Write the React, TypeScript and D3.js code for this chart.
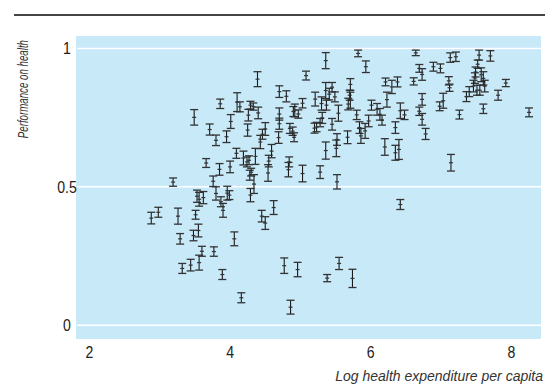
import React from "react";
import * as d3 from "d3";

// log health expenditure per capita (x), performance on health (y), half-width of interval
const expenditure = [
  2.88, 2.98, 3.19, 3.26, 3.29, 3.48, 3.55, 3.32, 3.44, 3.56,
  3.60, 3.51, 3.53, 3.56, 3.62, 3.49, 3.71, 3.66, 3.76, 3.80,
  3.80, 3.85, 3.86, 3.87, 3.90, 3.89, 3.77, 3.95, 3.96, 3.99,
  4.00, 4.01, 4.06, 4.09, 4.10, 4.14, 4.16, 4.19, 4.24, 4.26,
  4.25, 4.27, 4.28, 4.29, 4.30, 4.29, 4.33, 4.34, 4.36, 4.39,
  4.40, 4.43, 4.45, 4.50, 4.46, 4.50, 4.54, 4.55, 4.59, 4.62,
  4.70, 4.80, 4.70, 4.70, 4.69, 4.77, 4.83, 4.84, 4.85, 4.89,
  4.91, 4.86, 4.90, 4.92, 4.97, 4.96, 5.03, 5.03, 5.08, 5.20,
  5.23, 5.21, 5.28, 5.31, 5.30, 5.28, 5.36, 5.36, 5.36, 5.38,
  5.41, 5.37, 5.45, 5.49, 5.45, 5.52, 5.51, 5.52, 5.54, 5.55,
  5.67, 5.70, 5.71, 5.71, 5.68, 5.74, 5.80, 5.82, 5.84, 5.86,
  5.93, 5.92, 5.97, 6.01, 6.09, 6.13, 6.16, 6.21, 6.23, 6.20,
  6.30, 6.35, 6.38, 6.35, 6.40, 6.42, 6.42, 6.48, 6.61, 6.64,
  6.69, 6.73, 6.73, 6.69, 6.73, 6.78, 6.89, 6.99, 6.98, 7.03,
  7.11, 7.12, 7.13, 7.21, 7.14, 7.26, 7.36, 7.40, 7.49, 7.48,
  7.46, 7.51, 7.52, 7.54, 7.57, 7.60, 7.62, 7.60, 7.70, 7.81,
  7.92, 8.25, 7.55,
];

const performance = [
  0.387, 0.408, 0.517, 0.394, 0.312, 0.324, 0.342, 0.205, 0.217, 0.226,
  0.267, 0.399, 0.466, 0.455, 0.461, 0.751, 0.707, 0.586, 0.520, 0.668,
  0.476, 0.563, 0.800, 0.446, 0.415, 0.183, 0.266, 0.681, 0.477, 0.470,
  0.572, 0.736, 0.312, 0.621, 0.806, 0.789, 0.099, 0.604, 0.590, 0.759,
  0.705, 0.596, 0.542, 0.470, 0.553, 0.795, 0.790, 0.510, 0.610, 0.889,
  0.767, 0.662, 0.394, 0.369, 0.690, 0.709, 0.550, 0.593, 0.629, 0.425,
  0.844, 0.827, 0.763, 0.728, 0.678, 0.215, 0.562, 0.590, 0.711, 0.701,
  0.679, 0.065, 0.772, 0.776, 0.763, 0.201, 0.802, 0.548, 0.902, 0.712,
  0.716, 0.817, 0.732, 0.749, 0.801, 0.553, 0.956, 0.848, 0.631, 0.170,
  0.835, 0.795, 0.860, 0.825, 0.726, 0.671, 0.639, 0.518, 0.766, 0.223,
  0.679, 0.831, 0.870, 0.813, 0.799, 0.169, 0.760, 0.982, 0.714, 0.684,
  0.934, 0.702, 0.738, 0.795, 0.780, 0.762, 0.741, 0.879, 0.815, 0.644,
  0.861, 0.714, 0.879, 0.623, 0.635, 0.775, 0.436, 0.760, 0.881, 0.984,
  0.928, 0.906, 0.816, 0.773, 0.744, 0.691, 0.934, 0.928, 0.791, 0.811,
  0.883, 0.858, 0.967, 0.970, 0.587, 0.761, 0.826, 0.844, 0.915, 0.893,
  0.864, 0.849, 0.943, 0.976, 0.905, 0.892, 0.864, 0.782, 0.973, 0.831,
  0.875, 0.769, 0.849,
];

const interval = [
  0.021, 0.018, 0.015, 0.029, 0.019, 0.019, 0.023, 0.018, 0.021, 0.027,
  0.018, 0.016, 0.022, 0.025, 0.022, 0.028, 0.020, 0.016, 0.019, 0.019,
  0.024, 0.021, 0.017, 0.018, 0.025, 0.018, 0.017, 0.021, 0.025, 0.016,
  0.021, 0.025, 0.025, 0.018, 0.034, 0.018, 0.018, 0.025, 0.018, 0.021,
  0.022, 0.016, 0.018, 0.024, 0.014, 0.014, 0.013, 0.034, 0.029, 0.027,
  0.021, 0.024, 0.021, 0.023, 0.018, 0.023, 0.030, 0.021, 0.024, 0.025,
  0.021, 0.020, 0.022, 0.020, 0.021, 0.028, 0.026, 0.018, 0.018, 0.015,
  0.016, 0.025, 0.018, 0.023, 0.015, 0.026, 0.017, 0.030, 0.016, 0.018,
  0.017, 0.025, 0.015, 0.020, 0.024, 0.023, 0.029, 0.029, 0.031, 0.013,
  0.021, 0.018, 0.017, 0.018, 0.021, 0.021, 0.030, 0.026, 0.029, 0.022,
  0.023, 0.018, 0.021, 0.029, 0.021, 0.033, 0.017, 0.012, 0.021, 0.027,
  0.021, 0.027, 0.021, 0.018, 0.021, 0.021, 0.018, 0.014, 0.027, 0.030,
  0.024, 0.021, 0.018, 0.027, 0.036, 0.028, 0.018, 0.017, 0.013, 0.010,
  0.014, 0.021, 0.021, 0.015, 0.021, 0.020, 0.016, 0.016, 0.016, 0.027,
  0.015, 0.013, 0.017, 0.017, 0.030, 0.016, 0.018, 0.018, 0.018, 0.019,
  0.021, 0.018, 0.015, 0.018, 0.025, 0.024, 0.021, 0.017, 0.019, 0.018,
  0.013, 0.016, 0.018,
];

const xTicks = [2, 4, 6, 8];
const yTicks = [0, 0.5, 1];
const yTickLabels = ["0", "0.5", "1"];

const FONT = "'Liberation Sans', Arial, Helvetica, sans-serif";

export default function App() {
  const width = 545;
  const height = 385;
  const plot = { left: 76, right: 541, top: 36, bottom: 339 };

  const x = d3.scaleLinear().domain([1.81, 8.42]).range([plot.left, plot.right]);
  const y = d3.scaleLinear().domain([-0.05, 1.045]).range([plot.bottom, plot.top]);

  const points = expenditure.map((e, i) => ({
    x: e,
    y: performance[i],
    err: interval[i],
  }));

  const cap = 4;
  const mid = 2;

  return (
    <svg
      width={width}
      height={height}
      style={{ position: "absolute", left: 0, top: 0, background: "#fff" }}
      fontFamily={FONT}
    >
      <line x1={14} x2={545} y1={15} y2={15} stroke="#444" strokeWidth={2} />

      <rect
        x={plot.left}
        y={plot.top}
        width={plot.right - plot.left}
        height={plot.bottom - plot.top}
        fill="#c8e9f8"
      />

      {yTicks.map((t, i) => (
        <g key={"y" + t}>
          <line
            x1={plot.left + 1}
            x2={plot.right}
            y1={y(t)}
            y2={y(t)}
            stroke="#fff"
            strokeWidth={1.5}
          />
          <text
            x={67}
            y={y(t) + 6}
            textAnchor="middle"
            fontSize={16}
            fill="#222"
            transform={`translate(67,0) scale(0.88,1) translate(-67,0)`}
          >
            {yTickLabels[i]}
          </text>
        </g>
      ))}

      {xTicks.map((t) => (
        <text
          key={"x" + t}
          x={x(t)}
          y={358}
          textAnchor="middle"
          fontSize={16}
          fill="#222"
          transform={`translate(${x(t)},0) scale(0.88,1) translate(${-x(t)},0)`}
        >
          {t}
        </text>
      ))}

      <g>
        {points.map((d, i) => {
          const cx = x(d.x);
          const y0 = y(d.y - d.err);
          const y1 = y(d.y + d.err);
          const cy = y(d.y);
          return (
            <g key={i}>
              <line x1={cx} x2={cx} y1={y0} y2={y1} stroke="#1a1a1a" strokeWidth={1.1} />
              <line x1={cx - cap} x2={cx + cap} y1={y0} y2={y0} stroke="#333" strokeWidth={1.3} />
              <line x1={cx - cap} x2={cx + cap} y1={y1} y2={y1} stroke="#333" strokeWidth={1.3} />
              <line x1={cx - mid} x2={cx + mid} y1={cy} y2={cy} stroke="#333" strokeWidth={1.2} />
            </g>
          );
        })}
      </g>

      <text
        transform="translate(28,40) rotate(-90) scale(0.67,1)"
        x={0}
        y={0}
        textAnchor="end"
        fontSize={14.5}
        fontStyle="italic"
        fill="#333"
      >
        Performance on health
      </text>

      <text x={543} y={381} textAnchor="end" fontSize={14} fontStyle="italic" fill="#333">
        Log health expenditure per capita
      </text>
    </svg>
  );
}
